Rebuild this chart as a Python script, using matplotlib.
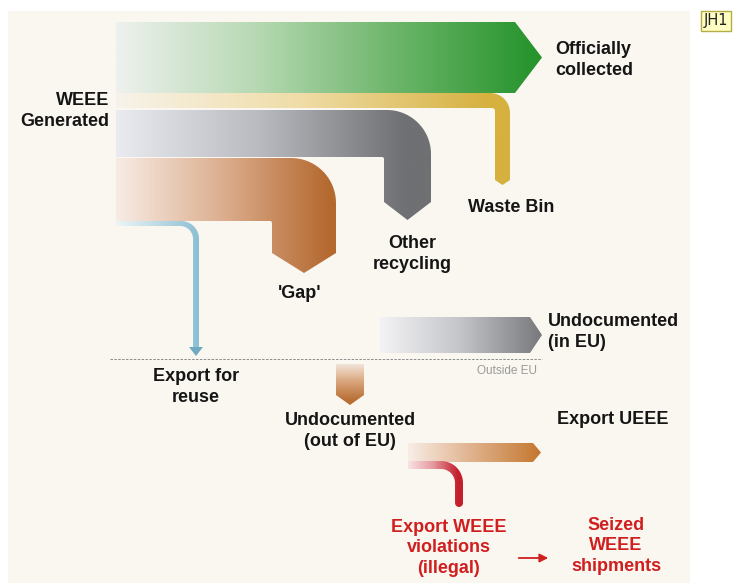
import matplotlib
matplotlib.use("Agg")
import matplotlib.pyplot as plt
from matplotlib.patches import Polygon, Rectangle
from matplotlib.colors import LinearSegmentedColormap
import numpy as np

plt.rcParams['font.family'] = ['Liberation Sans', 'DejaVu Sans']

# flows leaving "WEEE Generated" (band thickness, px)
top_labels = ['Officially\ncollected', 'Waste Bin', 'Other\nrecycling', "'Gap'", 'Export for\nreuse']
top_widths = [71, 15, 47, 63, 5]
top_gaps = [0, 0, 2, 1, 0]
top_colors = [['#eef1ee', '#b7d9b3', '#6cb56a', '#27942d'],
              ['#f7f3ea', '#efdca6', '#d6b13f'],
              ['#e9ebf1', '#b8babf', '#6f7073'],
              ['#f7ece5', '#dcae8f', '#b4692f'],
              ['#eef5f7', '#8cbfd3']]

# flows below the EU border line
low_labels = ['Undocumented\n(in EU)', 'Undocumented\n(out of EU)', 'Export UEEE',
              'Export WEEE\nviolations\n(illegal)', 'Seized\nWEEE\nshipments']
low_widths = [36, 28, 19, 8]
low_colors = [['#f4f4f6', '#c5c6ca', '#7a7b7e'],
              ['#f2e4d8', '#d9a47a', '#b86f35'],
              ['#f8ede6', '#dfb08a', '#c47830'],
              ['#f8e4e4', '#e59aa0', '#c4202c']]
red = '#d01f1f'

fig = plt.figure(figsize=(7.33, 5.83), dpi=100)
ax = fig.add_axes([0, 0, 1, 1])
ax.add_patch(Rectangle((8, 11), 682, 580, facecolor='#faf7f1', edgecolor='none', zorder=0))


def arc(cx, cy, r, a0, a1, n=20):
    t = np.radians(np.linspace(a0, a1, n))
    return list(zip(cx + r * np.cos(t), cy + r * np.sin(t)))


def bend(x0, yt, yb, xi, xo, yend, tip, ro, ri):
    v = [(x0, yt)] + arc(xo - ro, yt + ro, ro, -90, 0) + [(xo, yend)]
    if tip > 0:
        v += [((xi + xo) / 2, yend + tip)]
    else:
        v += arc((xi + xo) / 2, yend, (xo - xi) / 2, 0, 180, 10)
    v += [(xi, yend)] + arc(xi - ri, yb + ri, ri, 0, -90) + [(x0, yb)]
    return v


def arrow(x0, x1, yt, yb, tip):
    return [(x0, yt), (x1, yt), (x1 + tip, (yt + yb) / 2), (x1, yb), (x0, yb)]


def down_arrow(xl, xr, y0, y1, tip):
    return [(xl, y0), (xr, y0), (xr, y1), ((xl + xr) / 2, y1 + tip), (xl, y1)]


def fill_grad(verts, colors, g0, g1, vertical=False, z=2):
    verts = np.array(verts)
    cmap = LinearSegmentedColormap.from_list('g', colors)
    patch = Polygon(verts, closed=True, facecolor='none', edgecolor='none')
    ax.add_patch(patch)
    x0, y0 = verts.min(0)
    x1, y1 = verts.max(0)
    if vertical:
        t = np.clip((np.linspace(y0, y1, 300) - g0) / (g1 - g0), 0, 1)[:, None]
    else:
        t = np.clip((np.linspace(x0, x1, 600) - g0) / (g1 - g0), 0, 1)[None, :]
    im = ax.imshow(t, cmap=cmap, vmin=0, vmax=1, extent=(x0, x1, y1, y0),
                   origin='upper', aspect='auto', interpolation='bilinear', zorder=z)
    im.set_clip_path(patch)


# stack the top bands
x_src = 116
edges = []
y = 22
for w, g in zip(top_widths, top_gaps):
    y += g
    edges.append((y, y + w))
    y += w

# Officially collected
yt, yb = edges[0]
fill_grad(arrow(x_src, 515, yt, yb, 27), top_colors[0], x_src, 535, z=5)
# Waste bin
yt, yb = edges[1]
fill_grad(bend(x_src, yt, yb, 495, 510, 180, 5, 20, 3), top_colors[1], x_src, 490, z=4)
# Other recycling
yt, yb = edges[2]
fill_grad(bend(x_src, yt, yb, 384, 431, 202, 18, 44, 2), top_colors[2], x_src, 405, z=3)
# Gap
yt, yb = edges[3]
fill_grad(bend(x_src, yt, yb, 272, 336, 253, 20, 45, 2), top_colors[3], x_src, 330, z=2)
# Export for reuse
yt, yb = edges[4]
fill_grad(bend(x_src, yt, yb, 193, 199, 349, 0, 18, 13), top_colors[4], x_src, 200, z=2)
ax.add_patch(Polygon([(189, 347), (203, 347), (196, 356)], closed=True,
                     facecolor='#6fa9c2', edgecolor='none', zorder=3))

# EU border
ax.plot([110, 542], [359, 359], color='#8a8a8a', lw=0.7, dashes=(2.5, 1.5), zorder=1)
ax.text(537, 371, 'Outside EU', ha='right', va='center', fontsize=8.5, color='#9a9a9a')

# lower flows
fill_grad(arrow(380, 530, 317, 317 + low_widths[0], 12), low_colors[0], 378, 540)
fill_grad(down_arrow(336, 364, 364, 395, 10), low_colors[1], 364, 400, vertical=True)
fill_grad(arrow(408, 533, 443, 443 + low_widths[2], 8), low_colors[2], 408, 540)
fill_grad(bend(408, 461, 461 + low_widths[3], 455, 463, 503, 0, 22, 14), low_colors[3], 408, 458)

ax.annotate('', xy=(551, 558), xytext=(516, 558),
            arrowprops=dict(arrowstyle='-|>,head_length=0.5,head_width=0.25',
                            color=red, lw=1.3, mutation_scale=10))

# labels
tk = dict(fontsize=13, color='#151515', va='center', fontweight='bold', linespacing=1.38)
ax.text(109, 111, 'WEEE\nGenerated', ha='right', **tk)
ax.text(555, 60, top_labels[0], ha='left', **tk)
ax.text(468, 207, top_labels[1], ha='left', **tk)
ax.text(412, 254, top_labels[2], ha='center', **tk)
ax.text(300, 293, top_labels[3], ha='center', **tk)

bk = dict(fontsize=13, color='#151515', va='center', fontweight='bold', linespacing=1.33)
ax.text(196, 387, top_labels[4], ha='center', **bk)
ax.text(548, 332, low_labels[0], ha='left', **bk)
ax.text(350, 431, low_labels[1], ha='center', **bk)
ax.text(557, 420, low_labels[2], ha='left', **bk)
bk['color'] = red
bk['linespacing'] = 1.28
ax.text(449, 548, low_labels[3], ha='center', **bk)
ax.text(616, 546, low_labels[4], ha='center', **bk)

# comment marker
ax.text(716, 21, 'JH1', ha='center', va='center', fontsize=10.5, color='#222222',
        family='DejaVu Sans',
        bbox=dict(boxstyle='square,pad=0.2', facecolor='#ffffc4', edgecolor='#b5ad45', lw=1))

ax.set_xlim(0, 733)
ax.set_ylim(583, 0)
ax.axis('off')
fig.savefig('out.png', dpi=100)
